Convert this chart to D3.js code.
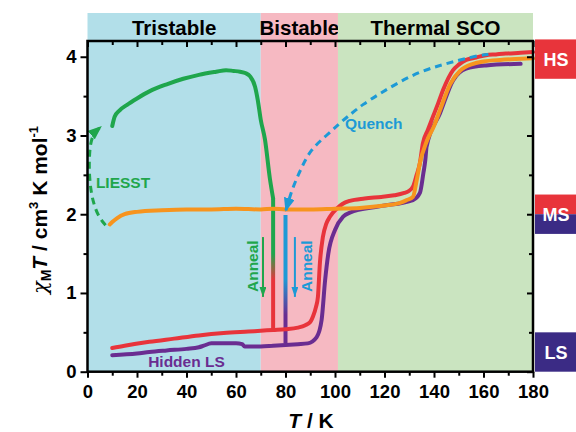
<!DOCTYPE html>
<html lang="en">
<head>
<meta charset="UTF-8">
<title>Tristable SCO</title>
<style>
  body { margin: 0; background: #fff; }
  svg { display: block; }
  text { font-family: "Liberation Sans", Arial, sans-serif; font-weight: bold; }
</style>
</head>
<body>
<svg width="576" height="432"></svg>
<script src="https://d3js.org/d3.v7.min.js"></script>
<script>
// ---- data ----
const bandStart = [0, 70, 101.2];
const bandEnd = [70, 101.2, 180];
const bandNames = ["Tristable", "Bistable", "Thermal SCO"];
const bandColors = ["#b2dfe9", "#f6b9c2", "#cae4c0"];

const xTicks = [0, 20, 40, 60, 80, 100, 120, 140, 160, 180];
const yTicks = [0, 1, 2, 3, 4];

// green: heating after LIESST
const greenT = [10, 11, 13, 16, 20, 25, 32, 38.7, 45, 52, 56, 59, 61.6, 64, 65.7, 67.7, 68.8, 70, 71.7, 73.7, 75];
const greenV = [3.12, 3.24, 3.32, 3.39, 3.47, 3.56, 3.65, 3.72, 3.77, 3.81, 3.83, 3.82, 3.81, 3.79, 3.75, 3.62, 3.45, 3.2, 2.95, 2.45, 2.2];

// orange: quenched MS state
const orangeT = [9, 10, 12, 15, 20, 30, 40, 50, 60, 70, 75, 80, 90, 100, 110, 120, 126, 129, 131.5, 133, 134.3, 137, 140, 142.4, 146.5, 150.5, 155.8, 160, 166.7, 173, 180];
const orangeV = [1.87, 1.9, 1.95, 2.0, 2.03, 2.05, 2.06, 2.06, 2.07, 2.06, 2.07, 2.06, 2.06, 2.07, 2.08, 2.11, 2.14, 2.18, 2.22, 2.43, 2.65, 2.92, 3.12, 3.32, 3.65, 3.82, 3.91, 3.94, 3.96, 3.97, 3.98];

// red: after anneal at 75 K
const redT = [10, 15, 25, 35, 45, 55, 65, 70, 75, 80, 85, 88, 90, 91.1, 92.3, 93.1, 93.9, 95.1, 96.5, 98, 100.7, 103, 106, 112, 118.7, 124, 128, 129.6, 131.5, 133, 134.3, 135.5, 137.5, 139.6, 141.7, 143.7, 147.7, 150, 153, 157, 161, 165, 169, 175, 180];
const redV = [0.30, 0.33, 0.38, 0.42, 0.46, 0.49, 0.51, 0.52, 0.53, 0.54, 0.56, 0.59, 0.63, 0.70, 0.82, 0.95, 1.38, 1.71, 1.88, 1.97, 2.07, 2.13, 2.17, 2.20, 2.22, 2.24, 2.27, 2.29, 2.35, 2.5, 2.65, 2.9, 3.07, 3.24, 3.41, 3.58, 3.83, 3.9, 3.96, 3.99, 4.02, 4.03, 4.04, 4.05, 4.06];

// purple: hidden LS after anneal at 80 K
const purpleT = [10, 20, 25, 32, 40, 45, 47, 50, 55, 60, 62.5, 63.5, 70, 75, 80, 85, 89, 92.6, 94.6, 96, 97.3, 100, 103.3, 106, 118, 131.5, 134.3, 135.7, 136.5, 137, 142.4, 147.7, 153, 161, 175];
const purpleV = [0.21, 0.23, 0.25, 0.27, 0.29, 0.31, 0.33, 0.36, 0.36, 0.36, 0.35, 0.32, 0.32, 0.33, 0.34, 0.35, 0.36, 0.44, 0.66, 1.16, 1.5, 1.8, 1.97, 2.02, 2.10, 2.18, 2.27, 2.52, 2.69, 2.86, 3.28, 3.7, 3.85, 3.89, 3.91];

// anneal relaxations (T, from, to)
const annealT = [75, 80];
const annealFrom = [2.2, 1.99];
const annealTo = [0.53, 0.36];

// dashed guides
const quenchT = [162, 158.6, 150.5, 142.4, 134.3, 126, 118, 111, 106.7, 102, 96.6, 90, 86, 82.5, 80];
const quenchV = [4.03, 4.02, 3.96, 3.89, 3.81, 3.68, 3.53, 3.39, 3.28, 3.16, 3.0, 2.82, 2.56, 2.31, 2.03];
const liesstT = [7.3, 4.4, 2.4, 1.3, 0.7, 0.7, 1.3, 3.2, 5.8];
const liesstV = [1.86, 1.97, 2.14, 2.31, 2.52, 2.73, 2.94, 3.05, 3.12];

const stateNames = ["HS", "MS", "LS"];
const stateLevel = [3.97, 2.0, 0.25];

// ---- layout ----
const svg = d3.select("svg");
const x = d3.scaleLinear().domain([0, 180]).range([87.5, 533]);
const y = d3.scaleLinear().domain([0, 4.2]).range([371.7, 41]);

const red = "#e8343b", purple = "#6a2d91", orange = "#f7941e",
      green = "#1fa64c", blue = "#1d9ad6", navy = "#3b2b85";

const defs = svg.append("defs");
function marker(id, color, w, l) {
  defs.append("marker")
    .attr("id", id).attr("markerUnits", "userSpaceOnUse")
    .attr("viewBox", `0 ${-w / 2} ${l} ${w}`)
    .attr("refX", l).attr("refY", 0)
    .attr("markerWidth", l).attr("markerHeight", w)
    .attr("orient", "auto")
    .append("path").attr("d", `M0,${-w / 2}L${l},0L0,${w / 2}Z`).attr("fill", color);
}
marker("arrBlue", blue, 11, 14);
marker("arrGreen", green, 11, 14);
marker("arrBlueS", blue, 7, 10);
marker("arrGreenS", green, 7, 10);

function grad(id, c1, c2, t1, t2, y1, y2) {
  const g = defs.append("linearGradient").attr("id", id)
    .attr("gradientUnits", "userSpaceOnUse")
    .attr("x1", 0).attr("x2", 0).attr("y1", y1).attr("y2", y2);
  g.append("stop").attr("offset", t1).attr("stop-color", c1);
  g.append("stop").attr("offset", t2).attr("stop-color", c2);
}
grad("annG", green, red, 0.42, 0.62, y(annealFrom[0]), y(annealTo[0]));
grad("annB", blue, purple, 0.5, 0.78, y(annealFrom[1]), y(annealTo[1]));

// bands
bandNames.forEach((name, i) => {
  svg.append("rect")
    .attr("x", x(bandStart[i])).attr("y", 13)
    .attr("width", x(bandEnd[i]) - x(bandStart[i]))
    .attr("height", y(0) - 13)
    .attr("fill", bandColors[i]);
  svg.append("text")
    .attr("x", (x(bandStart[i]) + x(bandEnd[i])) / 2).attr("y", 34.5)
    .attr("text-anchor", "middle").attr("font-size", 20.5)
    .text(name);
});

// state boxes
stateNames.forEach((name, i) => {
  const top = y(stateLevel[i] + 0.25), bot = y(Math.max(0, stateLevel[i] - 0.25));
  if (name === "MS") {
    svg.append("rect").attr("x", 535).attr("y", top).attr("width", 41).attr("height", (bot - top) / 2).attr("fill", red);
    svg.append("rect").attr("x", 535).attr("y", (top + bot) / 2).attr("width", 41).attr("height", (bot - top) / 2).attr("fill", navy);
  } else {
    svg.append("rect").attr("x", 535).attr("y", top).attr("width", 41).attr("height", bot - top)
      .attr("fill", name === "HS" ? red : navy);
  }
  svg.append("text").attr("x", 556).attr("y", (top + bot) / 2 + 6.5)
    .attr("text-anchor", "middle").attr("font-size", 18).attr("fill", "#fff").text(name);
});

// curves
const line = d3.line().x(d => x(d[0])).y(d => y(d[1])).curve(d3.curveMonotoneX);
const smooth = d3.line().x(d => x(d[0])).y(d => y(d[1])).curve(d3.curveBasis);
const zip = (a, b) => a.map((t, i) => [t, b[i]]);

function curve(T, V, color) {
  svg.append("path").datum(zip(T, V))
    .attr("d", line).attr("fill", "none").attr("stroke", color)
    .attr("stroke-width", 4).attr("stroke-linejoin", "round").attr("stroke-linecap", "round");
}

// anneal verticals
["annG", "annB"].forEach((id, i) => {
  svg.append("line")
    .attr("x1", x(annealT[i])).attr("x2", x(annealT[i]))
    .attr("y1", y(annealFrom[i])).attr("y2", y(annealTo[i]))
    .attr("stroke", `url(#${id})`).attr("stroke-width", 4);
});

curve(purpleT, purpleV, purple);
curve(redT, redV, red);
curve(orangeT, orangeV, orange);
curve(greenT, greenV, green);

// dashed guides
svg.append("path").datum(zip(quenchT, quenchV))
  .attr("d", smooth).attr("fill", "none").attr("stroke", blue)
  .attr("stroke-width", 3).attr("stroke-dasharray", "7,5")
  .attr("marker-end", "url(#arrBlue)");
svg.append("path").datum(zip(liesstT, liesstV))
  .attr("d", smooth).attr("fill", "none").attr("stroke", green)
  .attr("stroke-width", 3).attr("stroke-dasharray", "7,5")
  .attr("marker-end", "url(#arrGreen)");

// anneal arrows and labels
const arrowT = [70.9, 83.8], labelT = [66.5, 88.6], arrColors = [green, blue];
["arrGreenS", "arrBlueS"].forEach((m, i) => {
  svg.append("line")
    .attr("x1", x(arrowT[i])).attr("x2", x(arrowT[i]))
    .attr("y1", y(1.71)).attr("y2", y(0.95))
    .attr("stroke", arrColors[i]).attr("stroke-width", 2)
    .attr("marker-end", `url(#${m})`);
  svg.append("text")
    .attr("transform", `translate(${x(labelT[i]) + 5.5},${y(1.34)}) rotate(-90)`)
    .attr("text-anchor", "middle").attr("font-size", 15.5).attr("fill", arrColors[i])
    .text("Anneal");
});

svg.append("text").attr("x", x(3.4)).attr("y", y(2.4) + 5.5).attr("font-size", 15.5).attr("fill", green).text("LIESST");
svg.append("text").attr("x", x(104)).attr("y", y(3.15) + 5.5).attr("font-size", 15.5).attr("fill", blue).text("Quench");
svg.append("text").attr("x", x(24.5)).attr("y", y(0.13) + 5.5).attr("font-size", 15.5).attr("fill", purple).text("Hidden LS");

// axes
const xMinor = d3.range(10, 180, 20), yMinor = d3.range(0.5, 4.2, 1);
function ax(gen, scale, vals, size, tr, labels) {
  const g = svg.append("g").attr("transform", tr)
    .call(gen(scale).tickValues(vals).tickSize(size).tickSizeOuter(0)
      .tickFormat(labels ? d3.format("d") : ""));
  g.select(".domain").remove();
  g.selectAll("line").attr("stroke", "#000").attr("stroke-width", 2);
  g.selectAll("text").attr("font-size", 18.5).attr("fill", "#000")
    .style("font-family", '"Liberation Sans", Arial, sans-serif').style("font-weight", "bold");
  return g;
}
const yb = y(0), xl = x(0), xr = x(180), yt = y(4.2);
ax(d3.axisBottom, x, xTicks, 6, `translate(0,${yb})`, true).selectAll("text").attr("dy", "0.95em");
ax(d3.axisBottom, x, xMinor, 4, `translate(0,${yb})`, false);
ax(d3.axisLeft, y, yTicks, 7, `translate(${xl},0)`, true).selectAll("text").attr("dx", "-0.05em");
ax(d3.axisLeft, y, yMinor, 4, `translate(${xl},0)`, false);
ax(d3.axisTop, x, xTicks, -6, `translate(0,${yt})`, false);
ax(d3.axisTop, x, xMinor, -4, `translate(0,${yt})`, false);
ax(d3.axisRight, y, yTicks, -6, `translate(${xr},0)`, false);
ax(d3.axisRight, y, yMinor, -4, `translate(${xr},0)`, false);

svg.append("rect").attr("x", xl).attr("y", yt).attr("width", xr - xl).attr("height", yb - yt)
  .attr("fill", "none").attr("stroke", "#000").attr("stroke-width", 2.5);

// axis titles
const xt = svg.append("text").attr("x", 311).attr("y", 428).attr("text-anchor", "middle").attr("font-size", 21);
xt.append("tspan").attr("font-style", "italic").text("T");
xt.append("tspan").text(" / K");

const yt2 = svg.append("text").attr("transform", "translate(47,210) rotate(-90)")
  .attr("text-anchor", "middle").attr("font-size", 21);
yt2.append("tspan").attr("font-style", "italic").attr("font-weight", "normal")
  .style("font-family", '"DejaVu Serif", serif').text("χ");
yt2.append("tspan").attr("font-size", 14).attr("dy", 4).text("M");
yt2.append("tspan").attr("font-style", "italic").attr("dy", -4).text("T");
yt2.append("tspan").text(" / cm");
yt2.append("tspan").attr("font-size", 13).attr("dy", -9).text("3");
yt2.append("tspan").attr("dy", 9).text(" K mol");
yt2.append("tspan").attr("font-size", 13).attr("dy", -9).text("-1");
</script>
</body>
</html>
